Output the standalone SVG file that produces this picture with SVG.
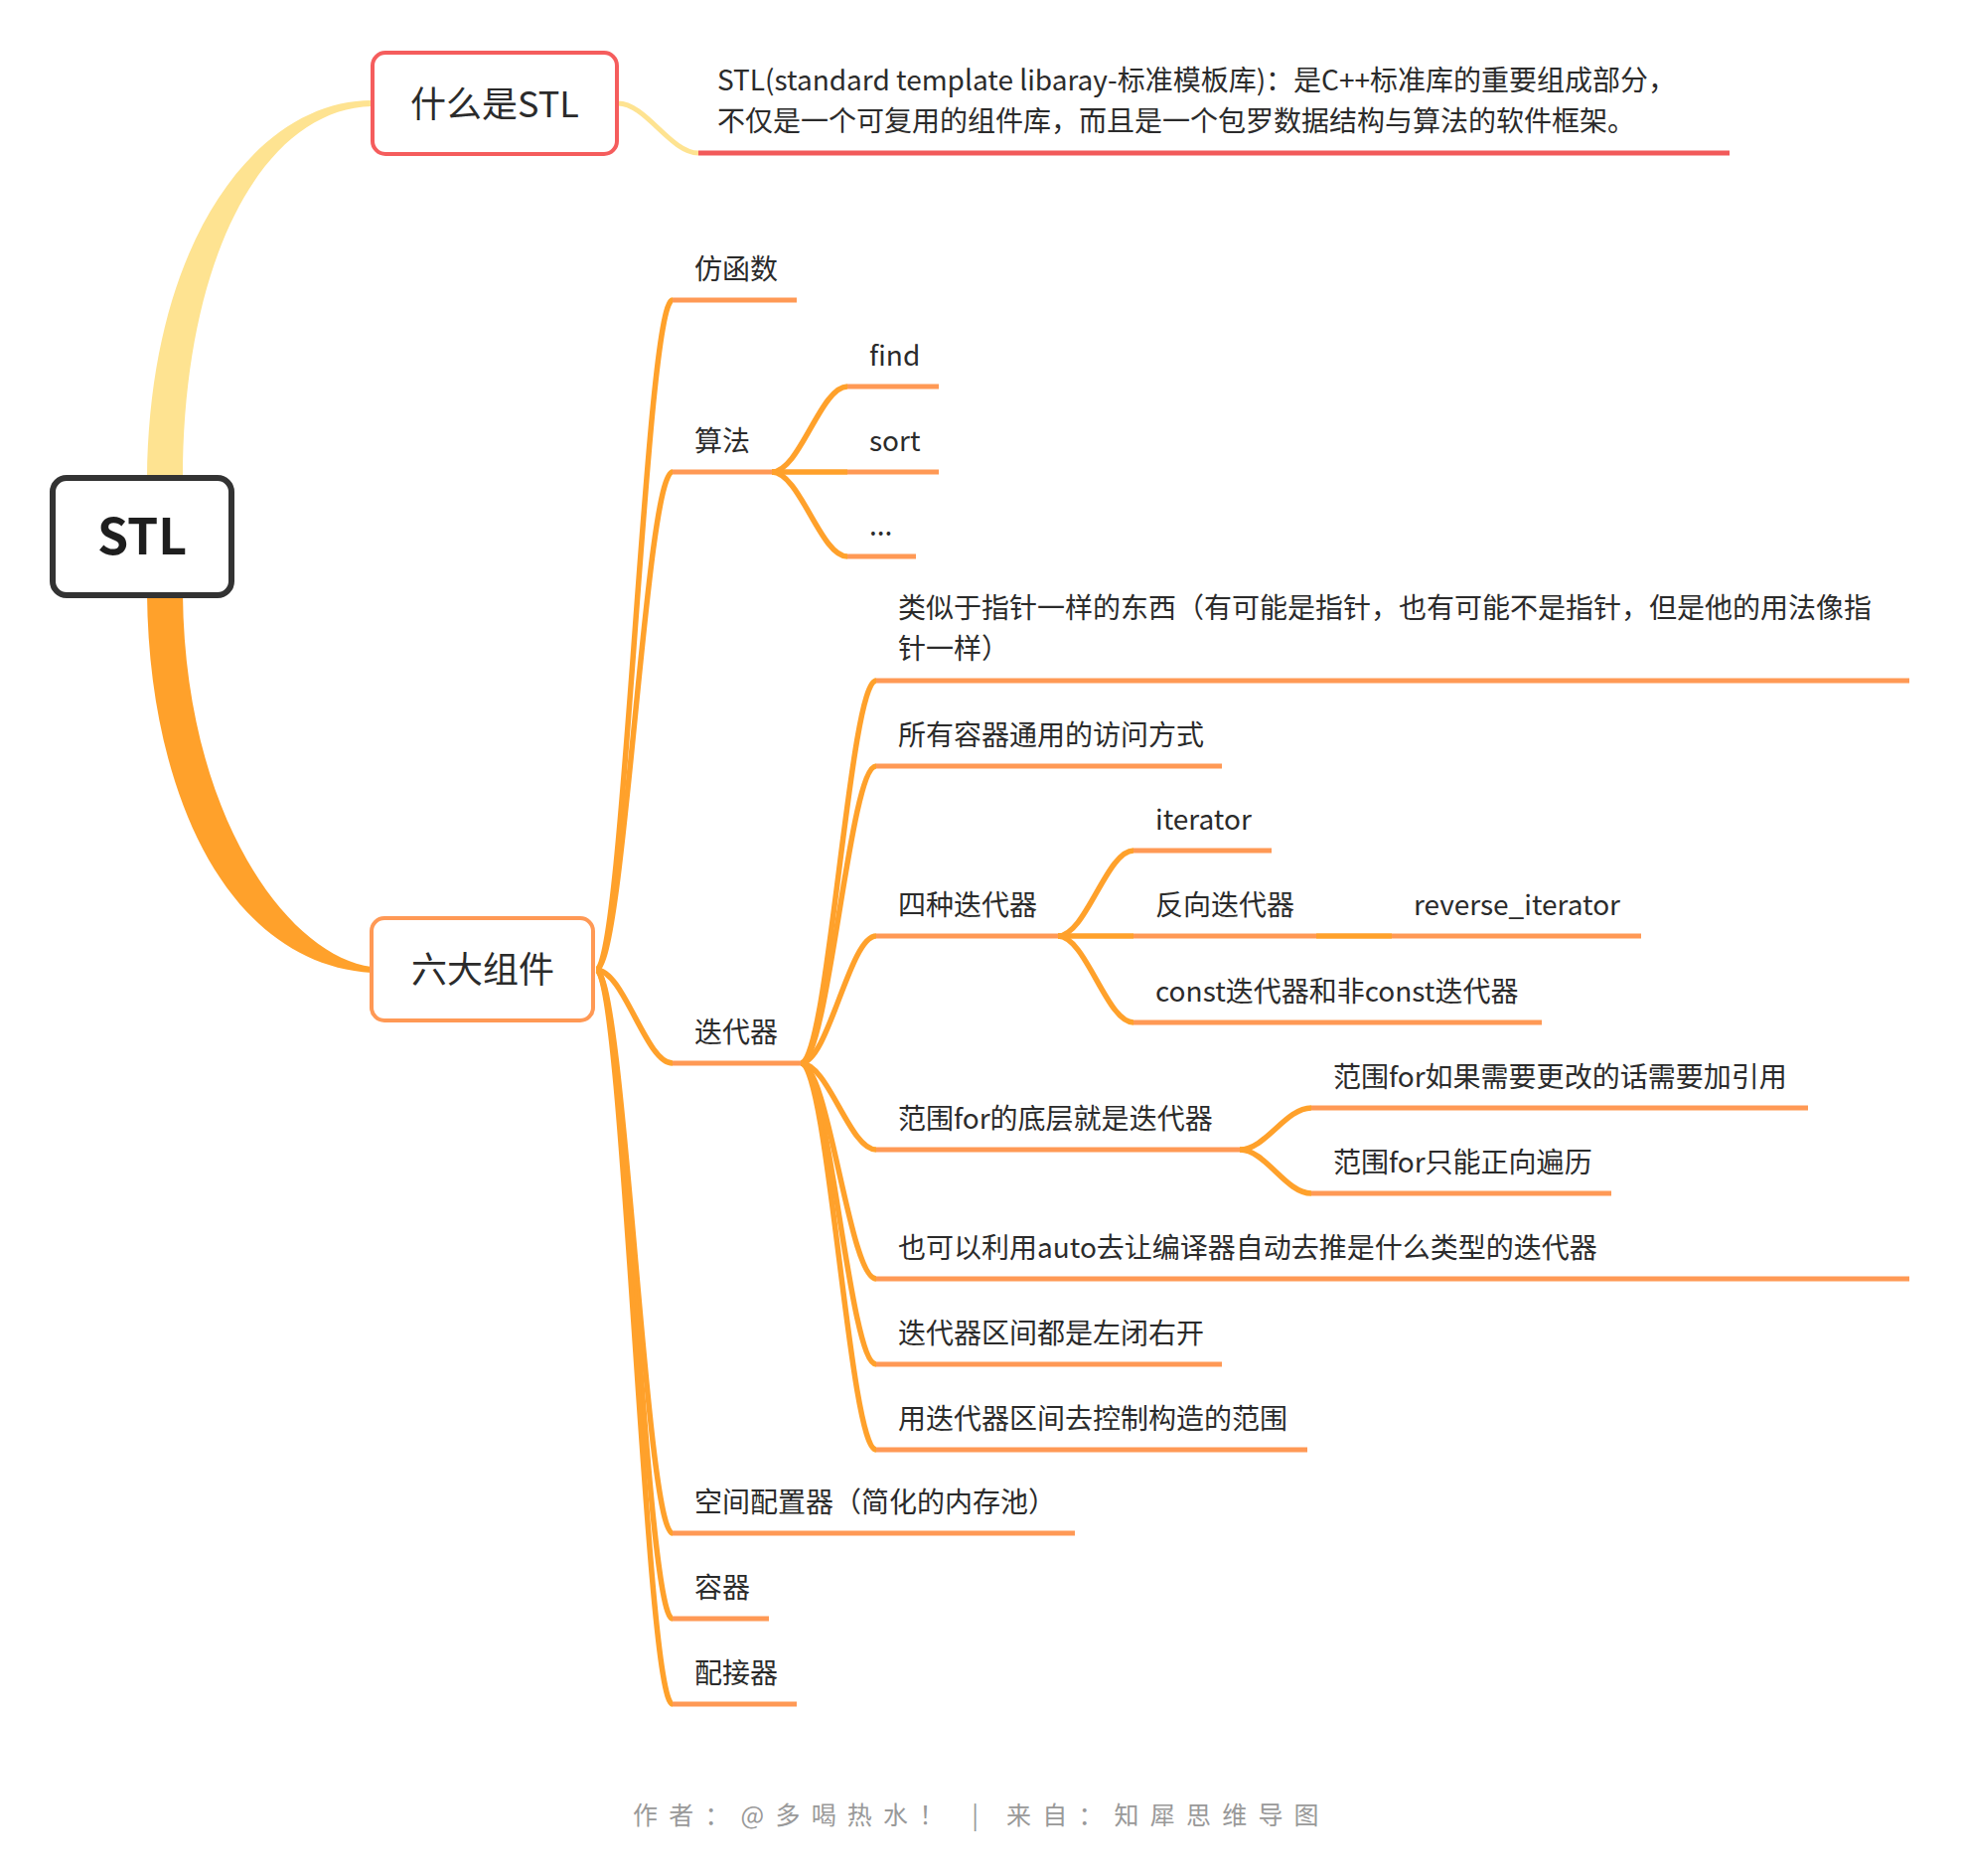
<svg xmlns="http://www.w3.org/2000/svg" width="1974" height="1888" viewBox="0 0 1974 1888">
<style>
text{font-family:"Noto Sans CJK SC","Noto Sans",sans-serif;fill:#2b2b2b;}
.t{font-size:28px;}
.c{fill:none;stroke:#FFA12B;stroke-width:5.5;}
.u{fill:none;stroke:#FF9955;stroke-width:5;}
.box{fill:#fff;}
</style>
<rect width="1974" height="1888" fill="#fff"/>
<g id="connectors">
<path d="M148 482 C150 240 260 101 374 101 L374 107 C265 110 184 260 184 482 Z" fill="#FEE391"/>
<path d="M148 598 C150 800 230 970 374 979 L374 973 C290 962 186 820 184 598 Z" fill="#FFA12B"/>
<path d="M622 104 C650 104 675 154 703 154" fill="none" stroke="#FEE391" stroke-width="5"/>
<path class="c" d="M600 976 C628 976 650 302 677 302"/>
<path class="c" d="M600 976 C628 976 650 475 677 475"/>
<path class="c" d="M600 976 C628 976 650 1070 677 1070"/>
<path class="c" d="M600 976 C628 976 650 1543 677 1543"/>
<path class="c" d="M600 976 C628 976 650 1629 677 1629"/>
<path class="c" d="M600 976 C628 976 650 1715 677 1715"/>
<path class="c" d="M777 475 C805 475 826 389 853 389"/>
<path class="c" d="M777 475 L853 475"/>
<path class="c" d="M777 475 C805 475 826 560 853 560"/>
<path class="c" d="M806 1070 C834 1070 855 685 882 685"/>
<path class="c" d="M806 1070 C834 1070 855 771 882 771"/>
<path class="c" d="M806 1070 C834 1070 855 942 882 942"/>
<path class="c" d="M806 1070 C834 1070 855 1157 882 1157"/>
<path class="c" d="M806 1070 C834 1070 855 1287 882 1287"/>
<path class="c" d="M806 1070 C834 1070 855 1373 882 1373"/>
<path class="c" d="M806 1070 C834 1070 855 1459 882 1459"/>
<path class="c" d="M1065 942 C1093 942 1114 856 1141 856"/>
<path class="c" d="M1065 942 L1141 942"/>
<path class="c" d="M1065 942 C1093 942 1114 1029 1141 1029"/>
<path class="c" d="M1325 942 L1401 942"/>
<path class="c" d="M1248 1157 C1274 1157 1294 1115 1320 1115"/>
<path class="c" d="M1248 1157 C1274 1157 1294 1201 1320 1201"/>
</g>
<g id="root">
<rect x="53" y="481" width="180" height="118" rx="14" class="box" stroke="#333" stroke-width="6"/>
<text x="143" y="558" text-anchor="middle" font-size="50" font-weight="bold" style="fill:#1e1e1e">STL</text>
</g>
<g id="what-is-stl">
<rect x="375" y="53" width="246" height="102" rx="13" class="box" stroke="#F55D5D" stroke-width="4"/>
<text x="498" y="118" text-anchor="middle" font-size="36">什么是STL</text>
</g>
<g id="desc">
<path d="M703 154 L1741 154" stroke="#F25A5A" stroke-width="5" fill="none"/>
<text class="t" x="722" y="91">STL(standard template libaray-标准模板库)：是C++标准库的重要组成部分，<tspan x="722" dy="41">不仅是一个可复用的组件库，而且是一个包罗数据结构与算法的软件框架。</tspan></text>
</g>
<g id="six">
<rect x="374" y="924" width="223" height="103" rx="13" class="box" stroke="#FF9955" stroke-width="4"/>
<text x="486" y="989" text-anchor="middle" font-size="36">六大组件</text>
</g>
<g id="n-fanghanshu"><path class="u" d="M677 302 L802 302"/><text class="t" x="699" y="281">仿函数</text></g>
<g id="n-suanfa"><path class="u" d="M677 475 L777 475"/><text class="t" x="699" y="454">算法</text></g>
<g id="n-find"><path class="u" d="M853 389 L945 389"/><text class="t" x="875" y="368">find</text></g>
<g id="n-sort"><path class="u" d="M853 475 L945 475"/><text class="t" x="875" y="454">sort</text></g>
<g id="n-etc"><path class="u" d="M853 560 L922 560"/><text class="t" x="875" y="539">...</text></g>
<g id="n-iter"><path class="u" d="M677 1070 L806 1070"/><text class="t" x="699" y="1049">迭代器</text></g>
<g id="n-like-ptr"><path class="u" d="M882 685 L1922 685"/><text class="t" x="904" y="622">类似于指针一样的东西（有可能是指针，也有可能不是指针，但是他的用法像指<tspan x="904" dy="41">针一样）</tspan></text></g>
<g id="n-access"><path class="u" d="M882 771 L1230 771"/><text class="t" x="904" y="750">所有容器通用的访问方式</text></g>
<g id="n-four"><path class="u" d="M882 942 L1065 942"/><text class="t" x="904" y="921">四种迭代器</text></g>
<g id="n-iterator"><path class="u" d="M1141 856 L1280 856"/><text class="t" x="1163" y="835">iterator</text></g>
<g id="n-reverse"><path class="u" d="M1141 942 L1325 942"/><text class="t" x="1163" y="921">反向迭代器</text></g>
<g id="n-reverse-it"><path class="u" d="M1401 942 L1652 942"/><text class="t" x="1423" y="921">reverse_iterator</text></g>
<g id="n-const"><path class="u" d="M1141 1029 L1552 1029"/><text class="t" x="1163" y="1008">const迭代器和非const迭代器</text></g>
<g id="n-rangefor"><path class="u" d="M882 1157 L1248 1157"/><text class="t" x="904" y="1136">范围for的底层就是迭代器</text></g>
<g id="n-rf-ref"><path class="u" d="M1320 1115 L1820 1115"/><text class="t" x="1342" y="1094">范围for如果需要更改的话需要加引用</text></g>
<g id="n-rf-fwd"><path class="u" d="M1320 1201 L1622 1201"/><text class="t" x="1342" y="1180">范围for只能正向遍历</text></g>
<g id="n-auto"><path class="u" d="M882 1287 L1922 1287"/><text class="t" x="904" y="1266">也可以利用auto去让编译器自动去推是什么类型的迭代器</text></g>
<g id="n-range"><path class="u" d="M882 1373 L1230 1373"/><text class="t" x="904" y="1352">迭代器区间都是左闭右开</text></g>
<g id="n-ctor"><path class="u" d="M882 1459 L1316 1459"/><text class="t" x="904" y="1438">用迭代器区间去控制构造的范围</text></g>
<g id="n-alloc"><path class="u" d="M677 1543 L1082 1543"/><text class="t" x="699" y="1522">空间配置器（简化的内存池）</text></g>
<g id="n-container"><path class="u" d="M677 1629 L774 1629"/><text class="t" x="699" y="1608">容器</text></g>
<g id="n-adapter"><path class="u" d="M677 1715 L802 1715"/><text class="t" x="699" y="1694">配接器</text></g>
<g id="footer">
<text x="637" y="1836" font-size="25" letter-spacing="11.2" style="fill:#999">作者：@多喝热水！ | 来自：知犀思维导图</text>
</g>
</svg>
